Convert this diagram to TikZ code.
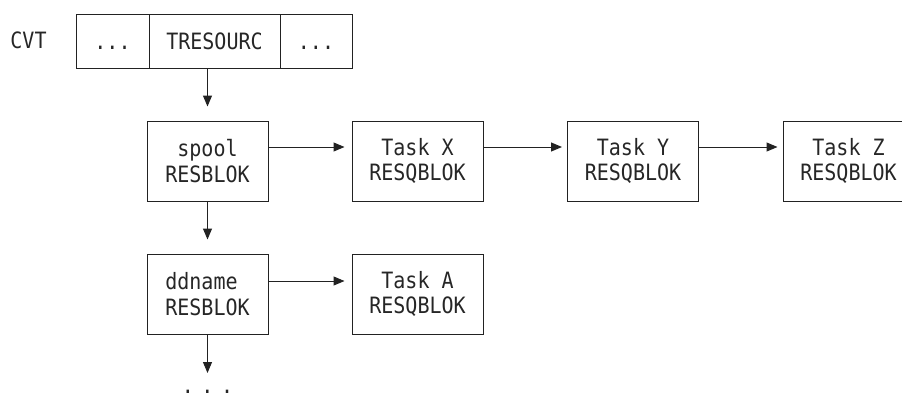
\documentclass[tikz,border=0pt]{standalone}
\usepackage{fontspec}
\setmonofont[FakeStretch=0.89]{DejaVu Sans Mono}
\usetikzlibrary{arrows.meta}
\definecolor{linec}{HTML}{222222}
\definecolor{txtc}{HTML}{262626}
\begin{document}
\begin{tikzpicture}[x=1pt,y=-1pt,
  lbl/.style={font=\fontsize{22.5}{25.5}\selectfont\ttfamily, text=txtc, align=center, inner sep=0pt},
  cell/.style={draw=linec, line width=1pt, lbl, minimum height=54pt, text height=16.5pt, text depth=0pt},
  blk/.style={draw=linec, line width=1pt, lbl, minimum height=80pt, minimum width=131pt},
  arr/.style={draw=linec, line width=1pt, -{Triangle[length=11pt,width=9pt]}}]
\useasboundingbox (0,0) rectangle (902,394);
\clip (0,0) rectangle (902,394);
% top row
\node[lbl, anchor=base] (cvt) at (28.5,48.5) {CVT};
\node[cell, minimum width=73pt] (c1) at (112.5,41) {...};
\node[cell, minimum width=131pt] (c2) at (214.5,41) {TRESOURC};
\node[cell, minimum width=72pt] (c3) at (316,41) {...};
% row 1
\node[blk, minimum width=121pt] (spool) at (207.5,161) {spool\\RESBLOK};
\node[blk] (tx) at (417.5,161) {Task X\\RESQBLOK};
\node[blk] (ty) at (633,161) {Task Y\\RESQBLOK};
\node[blk] (tz) at (848.5,161) {Task Z\\RESQBLOK};
% row 2
\node[blk, minimum width=121pt, align=left] (dd) at (207.5,294) {ddname\\RESBLOK};
\node[blk] (ta) at (417.5,294) {Task A\\RESQBLOK};
% continuation
\coordinate (more) at (207.5,373);
\node[lbl, anchor=base] (dots) at (207.5,393.5) {.\,\,.\,\,.};
% connectors
\draw[arr, shorten >=14pt] (c2.south -| spool.north) -- (spool.north);
\draw[arr, shorten >=7pt] ([yshift=14pt]spool.east) -- ([yshift=14pt]tx.west);
\draw[arr, shorten >=5pt] ([yshift=14pt]tx.east) -- ([yshift=14pt]ty.west);
\draw[arr, shorten >=5pt] ([yshift=14pt]ty.east) -- ([yshift=14pt]tz.west);
\draw[arr, shorten >=14pt] (spool.south) -- (dd.north);
\draw[arr, shorten >=7pt] ([yshift=13pt]dd.east) -- ([yshift=13pt]ta.west);
\draw[arr] (dd.south) -- (more);
\end{tikzpicture}
\end{document}
